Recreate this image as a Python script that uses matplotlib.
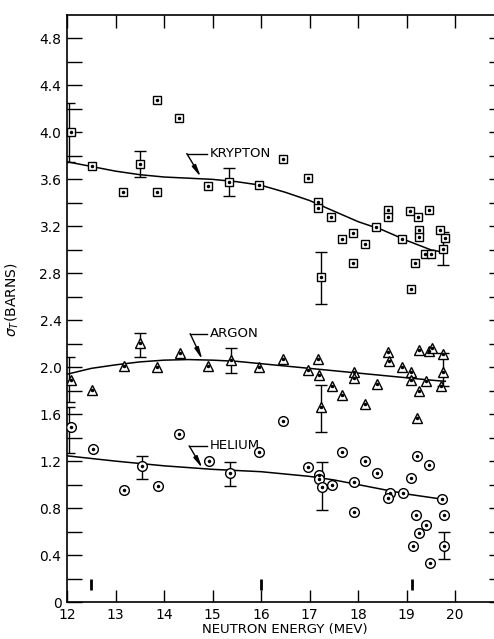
import numpy as np
import matplotlib
matplotlib.use("Agg")
import matplotlib.pyplot as plt

plt.rcParams['font.family'] = ['DejaVu Sans']

# ---------------- data ----------------
kr_x = [12.08, 12.52, 13.16, 13.51, 13.85, 13.86, 14.31, 14.91, 15.35, 15.96,
        16.45, 16.96, 17.18, 17.18, 17.44, 17.68, 17.90, 17.89, 18.14, 17.24,
        18.38, 18.62, 18.62, 18.91, 19.08, 19.23, 19.46, 19.26, 19.26, 19.17,
        19.09, 19.39, 19.50, 19.70, 19.79, 19.75]
kr_y = [4.00, 3.71, 3.49, 3.73, 4.28, 3.49, 4.12, 3.54, 3.58, 3.55,
        3.77, 3.61, 3.41, 3.36, 3.28, 3.09, 3.14, 2.89, 3.05, 2.77,
        3.19, 3.34, 3.28, 3.09, 3.33, 3.28, 3.34, 3.17, 3.11, 2.89,
        2.67, 2.96, 2.96, 3.17, 3.10, 3.01]

ar_x = [12.08, 12.52, 13.18, 13.50, 13.86, 14.32, 14.91, 15.38, 15.96, 16.45,
        16.96, 17.18, 17.19, 17.46, 17.67, 17.24, 17.91, 17.91, 18.15, 18.39,
        18.62, 18.63, 18.91, 19.10, 19.09, 19.25, 19.21, 19.25, 19.47, 19.53,
        19.40, 19.76, 19.76, 19.71]
ar_y = [1.89, 1.81, 2.01, 2.21, 2.00, 2.12, 2.01, 2.06, 2.00, 2.07,
        1.98, 2.07, 1.93, 1.84, 1.76, 1.66, 1.96, 1.91, 1.69, 1.86,
        2.13, 2.05, 2.00, 1.96, 1.89, 1.80, 1.57, 2.15, 2.14, 2.16,
        1.88, 2.11, 1.96, 1.84]

he_x = [12.08, 12.53, 13.18, 13.54, 13.88, 14.31, 14.92, 15.37, 15.96, 16.45,
        16.97, 17.20, 17.20, 17.26, 17.47, 17.68, 17.91, 17.92, 18.15, 18.39,
        18.66, 18.62, 18.92, 19.09, 19.21, 19.46, 19.19, 19.40, 19.26, 19.13,
        19.49, 19.73, 19.78, 19.77]
he_y = [1.49, 1.30, 0.955, 1.16, 0.99, 1.43, 1.20, 1.10, 1.28, 1.54,
        1.15, 1.08, 1.05, 0.98, 1.00, 1.28, 1.02, 0.77, 1.20, 1.10,
        0.93, 0.89, 0.93, 1.06, 1.245, 1.165, 0.745, 0.66, 0.59, 0.475,
        0.335, 0.875, 0.745, 0.48]

# error bars (x, value, low, high)
kr_err_x = [12.05, 13.51, 15.35, 17.24, 19.76]
kr_err_y = [4.00, 3.73, 3.58, 2.77, 3.01]
kr_err_lo = [3.75, 3.62, 3.46, 2.54, 2.87]
kr_err_hi = [4.25, 3.84, 3.70, 2.98, 3.15]

ar_err_x = [12.05, 13.50, 15.38, 17.24, 19.76]
ar_err_y = [1.89, 2.21, 2.06, 1.66, 1.98]
ar_err_lo = [1.70, 2.09, 1.95, 1.45, 1.84]
ar_err_hi = [2.09, 2.29, 2.16, 1.85, 2.12]

he_err_x = [12.05, 13.54, 15.37, 17.26, 19.77]
he_err_y = [1.49, 1.16, 1.10, 0.98, 0.48]
he_err_lo = [1.27, 1.05, 0.99, 0.78, 0.37]
he_err_hi = [1.66, 1.245, 1.19, 1.19, 0.60]

# smooth fitted curves
kr_cx = [12, 12.5, 13, 13.5, 14, 14.5, 15, 15.5, 16, 16.5, 17, 17.5, 18, 18.5, 19, 19.5, 19.75]
kr_cy = [3.75, 3.71, 3.67, 3.64, 3.62, 3.61, 3.60, 3.58, 3.55, 3.49, 3.42, 3.33, 3.24, 3.17, 3.08, 3.00, 2.98]
ar_cx = [12, 12.5, 13, 13.5, 14, 14.5, 15, 15.5, 16, 16.5, 17, 17.5, 18, 18.5, 19, 19.5, 19.8]
ar_cy = [1.94, 1.99, 2.02, 2.045, 2.06, 2.065, 2.06, 2.05, 2.03, 2.01, 1.99, 1.97, 1.95, 1.93, 1.91, 1.89, 1.88]
he_cx = [12, 13, 14, 15, 16, 16.5, 17, 17.5, 18, 18.5, 19, 19.5, 19.75]
he_cy = [1.245, 1.20, 1.16, 1.13, 1.11, 1.09, 1.07, 1.04, 1.00, 0.96, 0.92, 0.89, 0.875]

# energy marks near the bottom
mark_x = [12.5, 16.0, 19.12]

labels = ["KRYPTON", "ARGON", "HELIUM"]
xticks = [12, 13, 14, 15, 16, 17, 18, 19, 20]
yticks = [0, 0.4, 0.8, 1.2, 1.6, 2.0, 2.4, 2.8, 3.2, 3.6, 4.0, 4.4, 4.8]
ytick_labels = ["0", "0.4", "0.8", "1.2", "1.6", "2.0", "2.4", "2.8", "3.2", "3.6", "4.0", "4.4", "4.8"]

# ---------------- figure ----------------
fig = plt.figure(figsize=(4.94, 6.39), dpi=100)
ax = fig.add_axes([67 / 494, 37 / 639, 436.5 / 494, 587 / 639])
ax.set_xlim(12, 21)
ax.set_ylim(0, 5.0)

lw_curve = 1.1
for cx, cy in [(kr_cx, kr_cy), (ar_cx, ar_cy), (he_cx, he_cy)]:
    ax.plot(cx, cy, color='black', lw=lw_curve, zorder=2)

for ex, ey, lo, hi in [(kr_err_x, kr_err_y, kr_err_lo, kr_err_hi),
                       (ar_err_x, ar_err_y, ar_err_lo, ar_err_hi),
                       (he_err_x, he_err_y, he_err_lo, he_err_hi)]:
    ey = np.array(ey)
    yerr = [ey - np.array(lo), np.array(hi) - ey]
    ax.errorbar(ex, ey, yerr=yerr, fmt='none', ecolor='black', elinewidth=1.0,
                capsize=4, capthick=1.0, zorder=3)

for xs, ys, m, ms in [(kr_x, kr_y, 's', 5.6), (ar_x, ar_y, '^', 7.2), (he_x, he_y, 'o', 7.0)]:
    ax.plot(xs, ys, linestyle='none', marker=m, markersize=ms, markerfacecolor='white',
            markeredgecolor='black', markeredgewidth=1.0, zorder=4)
    ax.plot(xs, ys, linestyle='none', marker='o', markersize=1.5, color='black', zorder=5)

ax.vlines(mark_x, 0.1, 0.2, colors='black', lw=2)

# labels with leader lines
ann = [("KRYPTON", 14.47, 14.88, 3.82, 14.76, 3.62),
       ("ARGON", 14.54, 14.88, 2.285, 14.79, 2.065),
       ("HELIUM", 14.52, 14.88, 1.33, 14.79, 1.14)]
for text, xk, xe, yl, xt, yt in ann:
    ax.plot([xk, xe], [yl, yl], color='black', lw=1.0)
    ax.annotate("", xy=(xt, yt), xytext=(xk, yl),
                arrowprops=dict(arrowstyle='-|>,head_length=0.7,head_width=0.13',
                                color='black', lw=1.0, shrinkA=0, shrinkB=0))
    ax.text(xe + 0.07, yl, text, fontsize=9.5, va='center', ha='left')

# axes styling
ax.set_xticks(xticks)
ax.set_xticklabels([str(t) for t in xticks])
ax.set_yticks(yticks)
ax.set_yticklabels(ytick_labels)
ax.set_yticks(np.arange(0.2, 5.0, 0.4), minor=True)
ax.tick_params(axis='both', which='both', direction='in', top=True, right=True,
               labelsize=10, width=1.0, color='black')
ax.tick_params(axis='y', which='both', length=11, pad=4)
ax.tick_params(axis='x', which='major', length=9, pad=4)
for s in ax.spines.values():
    s.set_linewidth(1.2)

ax.set_xlabel("NEUTRON ENERGY (MEV)", fontsize=9.5, labelpad=1)
ax.set_ylabel(r"$\sigma_T$(BARNS)", fontsize=10)
ax.yaxis.set_label_coords(-0.105, 0.515)

fig.savefig("out.png", dpi=100)
